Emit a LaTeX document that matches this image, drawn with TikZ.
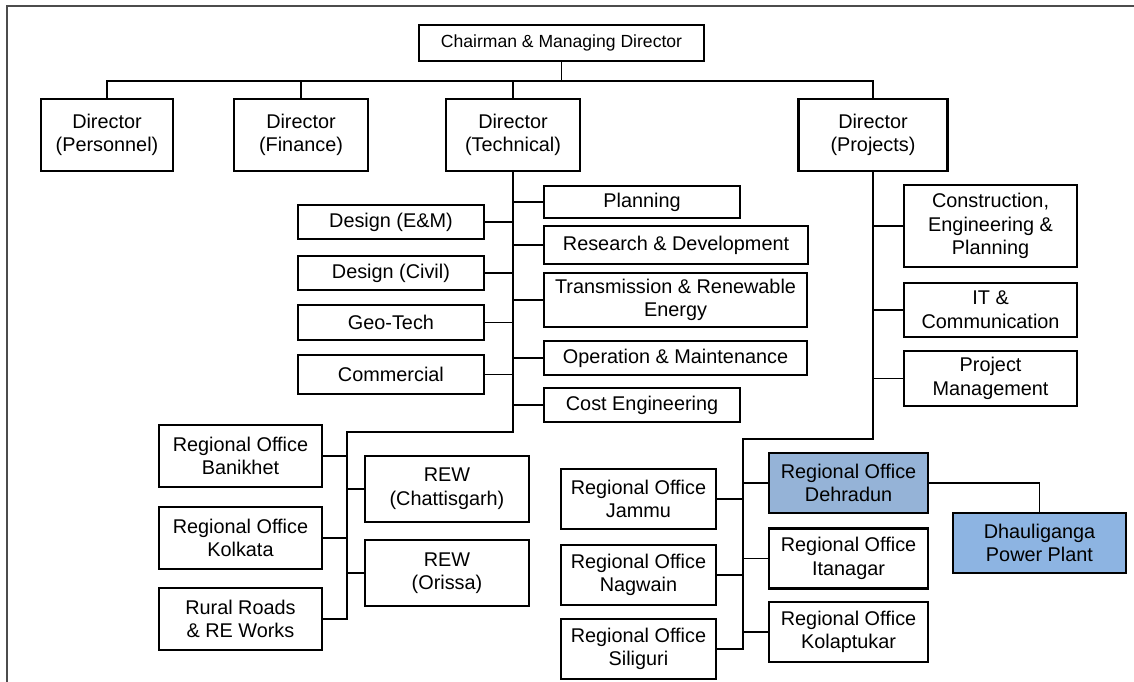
\documentclass[tikz,border=0pt]{standalone}
\usepackage{fontspec}
\setmainfont{Liberation Sans}
\definecolor{hlblue}{RGB}{149,179,215}
\definecolor{hlbluetwo}{RGB}{141,180,226}

\begin{document}
\begin{tikzpicture}[x=0.02cm,y=-0.02cm,
	box/.style={draw,line width=1.2pt,align=center,inner sep=1pt,
		font=\fontsize{11.3}{13.4}\selectfont},
	wh/.style 2 args={minimum width=#1*0.02cm,minimum height=#2*0.02cm},
	link/.style={line width=1.1pt}]
\useasboundingbox (0,0) rectangle (1134,682);
%cornice
\draw[line width=1.3pt,black!70] (7,682) -- (7,6) -- (1134,6);

%vertice e direttori
\node[box,wh={285}{36},font=\fontsize{10}{12}\selectfont] (cmd) at (561.5,43) {Chairman \& Managing Director};
\coordinate (bus) at (0,81);
\node[box,wh={132}{72}] (dper) at (107,135) {Director\\(Personnel)};
\node[box,wh={134}{72}] (dfin) at (301,135) {Director\\(Finance)};
\node[box,wh={134}{72}] (dtec) at (513,135) {Director\\(Technical)};
\node[box,wh={149}{72}] (dpro) at (873,135) {Director\\(Projects)};
\draw[link] (cmd.south) -- (cmd.south |- bus);
\draw[link] (dper.north) -- (dper.north |- bus) -- (dpro.north |- bus) -- (dpro.north);
\draw[link] (dfin.north) -- (dfin.north |- bus) (dtec.north) -- (dtec.north |- bus);

%ramo tecnico
\node[box,anchor=west,wh={196}{32}] (plan) at (543,202) {Planning};
\node[box,anchor=west,wh={264}{38}] (rnd) at (543,245) {Research \& Development};
\node[box,anchor=west,wh={263}{54}] (tre) at (543,300) {Transmission \& Renewable\\Energy};
\node[box,anchor=west,wh={263}{34}] (onm) at (543,358) {Operation \& Maintenance};
\node[box,anchor=west,wh={196}{34}] (cost) at (543,405) {Cost Engineering};
\node[box,anchor=east,wh={186}{34}] (dem) at (485,222) {Design (E\&M)};
\node[box,anchor=east,wh={186}{34}] (dciv) at (485,273) {Design (Civil)};
\node[box,anchor=east,wh={186}{35}] (geo) at (485,322.5) {Geo-Tech};
\node[box,anchor=east,wh={186}{39}] (com) at (485,374.5) {Commercial};
\coordinate (tbot) at (513,432);
\coordinate (tleft) at (347,432);
\foreach \n in {dem,dciv,geo,com}
	\draw[link] (\n.east) -- (\n.east -| tbot);
\foreach \n in {plan,rnd,tre,onm,cost}
	\draw[link] (\n.west) -- (\n.west -| tbot);

%uffici sotto il tecnico
\node[box,anchor=east,wh={163}{62}] (rob) at (323,456) {Regional Office\\Banikhet};
\node[box,anchor=east,wh={163}{62}] (rok) at (323,538) {Regional Office\\Kolkata};
\node[box,anchor=east,wh={163}{62}] (rrw) at (323,619) {Rural Roads\\\& RE Works};
\node[box,wh={164}{66}] (rewc) at (447,489) {REW\\(Chattisgarh)};
\node[box,wh={164}{66}] (rewo) at (447,573) {REW\\(Orissa)};
\draw[link] (dtec.south) -- (tbot) -- (tleft) |- (rrw.east);
\foreach \n in {rob,rok}
	\draw[link] (\n.east) -- (\n.east -| tleft);
\foreach \n in {rewc,rewo}
	\draw[link] (\n.west) -- (\n.west -| tleft);

%ramo progetti
\node[box,anchor=west,wh={173}{82}] (cep) at (903,226) {Construction,\\Engineering \&\\Planning};
\node[box,anchor=west,wh={173}{54}] (itc) at (903,310) {IT \&\\Communication};
\node[box,anchor=west,wh={173}{55}] (pm) at (903,378.5) {Project\\Management};
\coordinate (pbot) at (873,439);
\coordinate (pleft) at (743,439);
\foreach \n in {cep,itc,pm}
	\draw[link] (\n.west) -- (\n.west -| pbot);

%uffici regionali
\node[box,anchor=east,wh={155}{60}] (roj) at (717,499) {Regional Office\\Jammu};
\node[box,anchor=east,wh={155}{60}] (ron) at (717,575) {Regional Office\\Nagwain};
\node[box,anchor=east,wh={155}{60}] (ros) at (717,649) {Regional Office\\Siliguri};
\node[box,anchor=west,wh={159}{60},fill=hlblue] (rod) at (768,483) {Regional Office\\Dehradun};
\node[box,anchor=west,wh={159}{60}] (roi) at (768,558.5) {Regional Office\\Itanagar};
\node[box,anchor=west,wh={159}{60}] (rokp) at (768,632) {Regional Office\\Kolaptukar};
\node[box,wh={173}{60},fill=hlbluetwo] (dpp) at (1039.5,543) {Dhauliganga\\Power Plant};
\draw[link] (dpro.south) -- (pbot) -- (pleft) |- (ros.east);
\foreach \n in {roj,ron}
	\draw[link] (\n.east) -- (\n.east -| pleft);
\foreach \n in {rod,roi,rokp}
	\draw[link] (\n.west) -- (\n.west -| pleft);
\draw[link] (rod.east) -| (dpp.north);
\end{tikzpicture}
\end{document}
